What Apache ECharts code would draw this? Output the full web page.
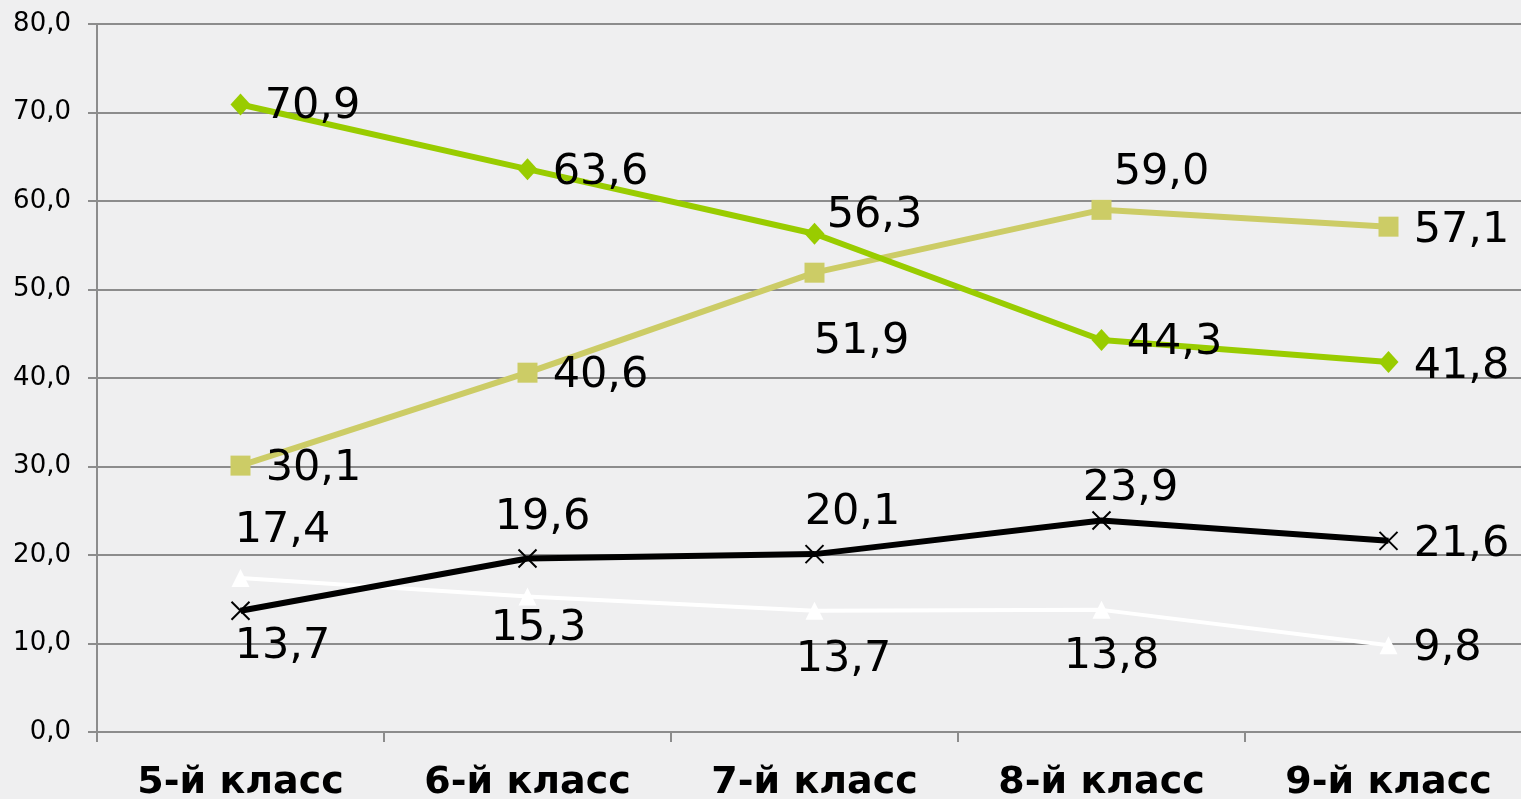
<!DOCTYPE html>
<html>
<head>
<meta charset="utf-8">
<script src="https://cdn.jsdelivr.net/npm/echarts@6/dist/echarts.min.js"></script>
<style>
  html, body { margin: 0; padding: 0; background: #efeff0; overflow: hidden; }
  /* plot runs past the right edge of the window, as in the source picture */
  #chart { width: 1532px; height: 799px; }
</style>
</head>
<body>
<div id="chart"></div>
<script>
// categories and values
var grades = ['5-й класс', '6-й класс', '7-й класс', '8-й класс', '9-й класс'];
var greenVals = [70.9, 63.6, 56.3, 44.3, 41.8];
var khakiVals = [30.1, 40.6, 51.9, 59.0, 57.1];
var blackVals = [13.7, 19.6, 20.1, 23.9, 21.6];
var whiteVals = [17.4, 15.3, 13.7, 13.8, 9.8];

// label placement (center of text relative to the point)
var greenOffsets = [[72, 2], [73, 4], [60, -18], [73, 3], [73, 5]];
var khakiOffsets = [[73, 3], [73, 3], [47, 69], [60, -37], [73, 4]];
var blackOffsets = [[42, 36], [15, -41], [38, -41], [29, -32], [73, 4]];
var whiteOffsets = [[42, -47], [11, 32], [29, 49], [10, 47], [59, 4]];

function fmt(v) {
    return v.toFixed(1).replace('.', ',');
}

function buildData(vals, offsets) {
    return vals.map(function (v, i) {
        return {
            value: v,
            label: { offset: offsets[i] }
        };
    });
}

var labelStyle = {
    show: true,
    position: 'inside',
    color: '#000',
    fontFamily: 'DejaVu Sans',
    fontSize: 43,
    formatter: function (p) { return fmt(p.value); }
};

var chart = echarts.init(document.getElementById('chart'));

var option = {
    backgroundColor: '#efeff0',
    animation: false,
    grid: { left: 97, top: 24, right: 0, bottom: 67, outerBoundsMode: 'none' },
    xAxis: {
        type: 'category',
        data: grades,
        boundaryGap: true,
        axisLine: { lineStyle: { color: '#8c8c8c', width: 2 } },
        axisTick: { show: true, length: 10, lineStyle: { color: '#8c8c8c', width: 2 } },
        axisLabel: {
            color: '#000',
            fontFamily: 'DejaVu Sans',
            fontWeight: 'bold',
            fontSize: 38,
            margin: 32
        }
    },
    yAxis: {
        type: 'value',
        min: 0,
        max: 80,
        interval: 10,
        axisLine: { show: true, lineStyle: { color: '#8c8c8c', width: 2 } },
        axisTick: { show: true, length: 9, lineStyle: { color: '#8c8c8c', width: 2 } },
        splitLine: { lineStyle: { color: '#8c8c8c', width: 2 } },
        axisLabel: {
            color: '#000',
            fontFamily: 'DejaVu Sans',
            fontSize: 26,
            margin: 26,
            formatter: function (v) { return fmt(v); }
        }
    },
    series: [
        {
            name: 'white',
            type: 'line',
            data: buildData(whiteVals, whiteOffsets),
            symbol: 'triangle',
            symbolSize: 18,
            lineStyle: { color: '#ffffff', width: 4 },
            itemStyle: { color: '#ffffff' },
            label: labelStyle,
            z: 2
        },
        {
            name: 'black',
            type: 'line',
            data: buildData(blackVals, blackOffsets),
            symbol: 'path://M0,0L10,10M10,0L0,10',
            symbolSize: 18,
            lineStyle: { color: '#000000', width: 6 },
            itemStyle: { color: '#000000', borderColor: '#000000', borderWidth: 2 },
            label: labelStyle,
            z: 3
        },
        {
            name: 'khaki',
            type: 'line',
            data: buildData(khakiVals, khakiOffsets),
            symbol: 'rect',
            symbolSize: 20,
            lineStyle: { color: '#cccc66', width: 6 },
            itemStyle: { color: '#cccc66' },
            label: labelStyle,
            z: 4
        },
        {
            name: 'green',
            type: 'line',
            data: buildData(greenVals, greenOffsets),
            symbol: 'diamond',
            symbolSize: [20, 22],
            lineStyle: { color: '#99cc00', width: 6 },
            itemStyle: { color: '#99cc00' },
            label: labelStyle,
            z: 5
        }
    ]
};

chart.setOption(option);
</script>
</body>
</html>
